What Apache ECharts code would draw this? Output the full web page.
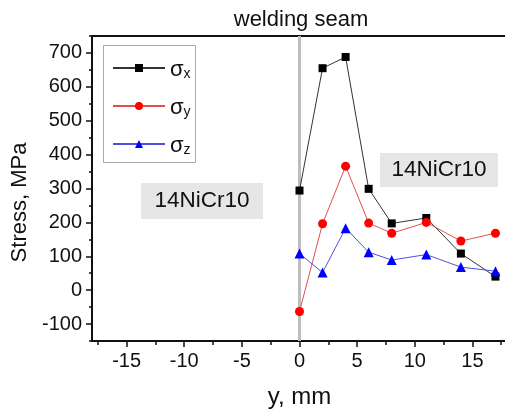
<!DOCTYPE html>
<html><head><meta charset="utf-8">
<script src="https://cdn.jsdelivr.net/npm/echarts@6/dist/echarts.min.js"></script>
<style>html,body{margin:0;padding:0;background:#fff}#c{width:505px;height:409px}</style>
</head><body><div id="c"></div>
<script>
const xPositions = [0, 2, 4, 6, 8, 11, 14, 17];
const sigmaX = [294, 655, 688, 299, 197, 213, 108, 40];
const sigmaY = [-63, 196, 366, 198, 168, 200, 145, 168];
const sigmaZ = [108, 52, 183, 112, 89, 105, 68, 56];
const seriesNames = ['x', 'y', 'z'];
const xTicks = [-15, -10, -5, 0, 5, 10, 15];
const xMinorTicks = [-17.5, -12.5, -7.5, -2.5, 2.5, 7.5, 12.5, 17.5];
const yTicks = [-100, 0, 100, 200, 300, 400, 500, 600, 700];
const yMinorTicks = [-150, -50, 50, 150, 250, 350, 450, 550, 650, 750];
const boxLabel = '14NiCr10';

const font = 'Liberation Sans, Arial, sans-serif';
const chart = echarts.init(document.getElementById('c'), null, {renderer: 'canvas'});
function pts(v) { return xPositions.map((x, i) => [x, v[i]]); }
const axisLine = {show: true, onZero: false, lineStyle: {color: '#111', width: 2}};
const hiddenLine = {show: false, onZero: false};
const xRange = {min: -18, max: 18};
const yRange = {min: -150, max: 750};

const option = {
  animation: false,
  backgroundColor: '#fff',
  title: {
    text: 'welding seam', left: 296, top: 4, textAlign: 'center',
    textStyle: {fontFamily: font, fontSize: 22, fontWeight: 'normal', color: '#111'}
  },
  grid: {left: 92, top: 36, right: -2, bottom: 68, containLabel: false, outerBoundsMode: 'none'},
  xAxis: [
    Object.assign({
      type: 'value', interval: 5,
      name: 'y, mm', nameLocation: 'middle', nameGap: 44,
      nameTextStyle: {fontFamily: font, fontSize: 24, color: '#111'},
      axisLine: axisLine,
      axisTick: {show: true, length: 6, lineStyle: {color: '#111', width: 1.5}, customValues: xTicks},
      axisLabel: {fontFamily: font, fontSize: 20, color: '#111', margin: 10, customValues: xTicks},
      splitLine: {show: false}
    }, xRange),
    Object.assign({
      type: 'value', interval: 5, position: 'bottom',
      axisLine: hiddenLine,
      axisTick: {show: true, length: 4, lineStyle: {color: '#111', width: 1.5}, customValues: xMinorTicks},
      axisLabel: {show: false}, splitLine: {show: false}
    }, xRange),
    Object.assign({
      type: 'value', interval: 5, position: 'top',
      axisLine: axisLine, axisTick: {show: false}, axisLabel: {show: false}, splitLine: {show: false}
    }, xRange)
  ],
  yAxis: [
    Object.assign({
      type: 'value', interval: 50,
      name: 'Stress, MPa', nameLocation: 'middle', nameGap: 57, nameRotate: 90,
      nameTextStyle: {fontFamily: font, fontSize: 22, color: '#111', padding: [0, 28, 0, 0]},
      axisLine: axisLine,
      axisTick: {show: true, length: 6, lineStyle: {color: '#111', width: 1.5}, customValues: yTicks},
      axisLabel: {fontFamily: font, fontSize: 20, color: '#111', margin: 10, customValues: yTicks},
      splitLine: {show: false}
    }, yRange),
    Object.assign({
      type: 'value', interval: 50, position: 'left',
      axisLine: hiddenLine,
      axisTick: {show: true, length: 3, lineStyle: {color: '#111', width: 1.5}, customValues: yMinorTicks},
      axisLabel: {show: false}, splitLine: {show: false}
    }, yRange)
  ],
  legend: {
    orient: 'vertical', left: 112, top: 59, itemWidth: 52, itemHeight: 10, itemGap: 16,
    padding: 0,
    data: seriesNames,
    formatter: n => '{s|σ}{b|' + n + '}',
    textStyle: {fontFamily: font, color: '#111', padding: [0, 0, 0, 0],
      rich: {s: {fontSize: 22, fontFamily: font, color: '#111', verticalAlign: 'bottom'},
             b: {fontSize: 14, fontFamily: font, color: '#111', padding: [12, 0, 0, 0]}}}
  },
  graphic: [
    {type: 'rect', left: 103, top: 45, shape: {width: 92, height: 117},
     style: {fill: '#fff', stroke: '#aaa', lineWidth: 1}, z: 0},
    {type: 'rect', left: 141, top: 183, shape: {width: 122, height: 36},
     style: {fill: '#e6e6e6'}, z: 0},
    {type: 'text', x: 202, y: 201, z: 1,
     style: {text: boxLabel, fontFamily: font, fontSize: 22.5, fill: '#111', align: 'center', verticalAlign: 'middle'}},
    {type: 'rect', left: 380, top: 153, shape: {width: 118, height: 34},
     style: {fill: '#e6e6e6'}, z: 0},
    {type: 'text', x: 439, y: 170, z: 1,
     style: {text: boxLabel, fontFamily: font, fontSize: 22.5, fill: '#111', align: 'center', verticalAlign: 'middle'}}
  ],
  series: [
    {type: 'line', data: [], zlevel: 0, z: 1, silent: true,
     markLine: {silent: true, symbol: 'none', label: {show: false},
       lineStyle: {type: 'solid', color: '#bdbdbd', width: 3},
       data: [{xAxis: 0}]}},
    {name: 'x', type: 'line', data: pts(sigmaX), zlevel: 1, symbol: 'rect', symbolSize: 8,
     lineStyle: {color: '#333', width: 1}, itemStyle: {color: '#000'}},
    {name: 'y', type: 'line', data: pts(sigmaY), zlevel: 1, symbol: 'circle', symbolSize: 9,
     lineStyle: {color: '#e05050', width: 1}, itemStyle: {color: '#f00'}},
    {name: 'z', type: 'line', data: pts(sigmaZ), zlevel: 1, symbol: 'triangle', symbolSize: 10,
     lineStyle: {color: '#5050e0', width: 1}, itemStyle: {color: '#00f'}}
  ]
};
chart.setOption(option);
</script></body></html>
